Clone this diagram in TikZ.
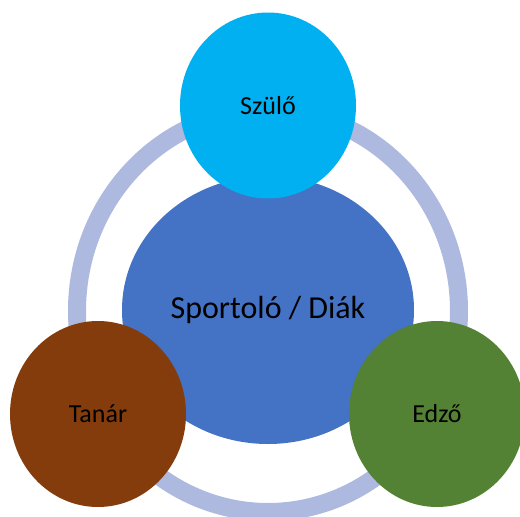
\documentclass[tikz,border=0pt]{standalone}
\usepackage{fontspec}
\setmainfont{Carlito}
\usetikzlibrary{shapes.geometric}
\definecolor{ringc}{HTML}{ADB9DF}
\definecolor{centerc}{HTML}{4472C4}
\definecolor{topc}{HTML}{00B0F0}
\definecolor{brownc}{HTML}{843C0C}
\definecolor{greenc}{HTML}{548235}
\tikzset{
  blob/.style={ellipse, inner sep=0pt, minimum width=176pt, minimum height=186pt, text=black, font=\fontsize{26}{30}\selectfont},
  ringstyle/.style={ellipse, draw=ringc, line width=18pt, minimum width=382pt, minimum height=402pt, inner sep=0pt},
}
\begin{document}
\begin{tikzpicture}[x=1pt,y=1pt]
\useasboundingbox (0,0) rectangle (520,-517);
\node[ringstyle] (ring) at (268,-311) {};
\node[ellipse, fill=centerc, inner sep=0pt, minimum width=292pt, minimum height=268pt, font=\fontsize{32}{38}\selectfont] (center) at (268,-310) {Sportoló / Diák};
\node[blob, fill=topc] (szulo) at (268,-105.5) {Szülő};
\node[blob, fill=brownc] (tanar) at (98,-414) {Tanár};
\node[blob, fill=greenc] (edzo) at (437,-414) {Edző};
\end{tikzpicture}
\end{document}
